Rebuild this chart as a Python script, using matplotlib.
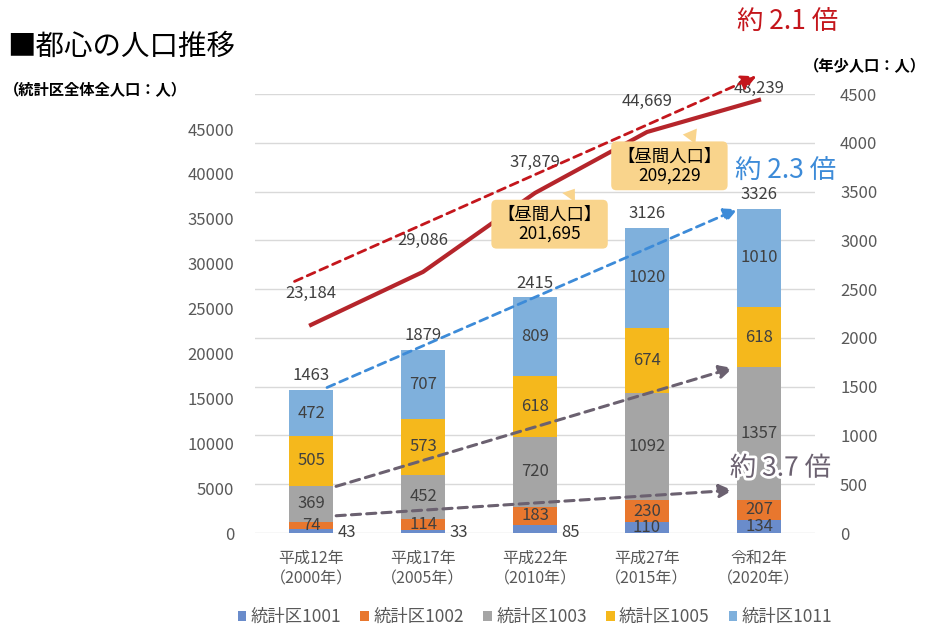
import numpy as np
import matplotlib
matplotlib.use("Agg")
import matplotlib.pyplot as plt
import matplotlib.patheffects as pe

plt.rcParams['font.family'] = ['Noto Sans CJK JP', 'DejaVu Sans']

# data
years = ["平成12年\n（2000年）", "平成17年\n（2005年）", "平成22年\n（2010年）",
         "平成27年\n（2015年）", "令和2年\n（2020年）"]
series_names = ["統計区1001", "統計区1002", "統計区1003", "統計区1005", "統計区1011"]
youth_1001 = [43, 33, 85, 110, 134]
youth_1002 = [74, 114, 183, 230, 207]
youth_1003 = [369, 452, 720, 1092, 1357]
youth_1005 = [505, 573, 618, 674, 618]
youth_1011 = [472, 707, 809, 1020, 1010]
youth_total = [1463, 1879, 2415, 3126, 3326]
total_pop = [23184, 29086, 37879, 44669, 48239]
daytime_pop = ["201,695", "209,229"]

colors = ["#6A8CCB", "#E8772E", "#A5A5A5", "#F5B81C", "#7FB0DC"]
line_color = "#B5252B"
txt = "#404040"
tick_c = "#595959"

fig = plt.figure(figsize=(9.29, 6.31), dpi=100)
ax = fig.add_axes([0.2745, 0.1553, 0.6028, 0.6957])
ax2 = ax.twinx()

x = np.arange(len(years))
w = 0.39
bottom = np.zeros(len(years))
stack = [youth_1001, youth_1002, youth_1003, youth_1005, youth_1011]
for vals, c, name in zip(stack, colors, series_names):
    ax.bar(x, vals, w, bottom=bottom, color=c, label=name, zorder=2)
    for i, v in enumerate(vals):
        if name == "統計区1001" and v < 100:
            ax.text(x[i] + w / 2 + 0.04, bottom[i] + 10, str(v), ha="left", va="center",
                    fontsize=12, color=txt)
        else:
            ax.text(x[i], bottom[i] + v / 2, str(v), ha="center", va="center",
                    fontsize=12, color=txt)
    bottom += np.array(vals)
for i, t in enumerate(youth_total):
    ax.text(x[i], t + 60, str(t), ha="center", va="bottom", fontsize=12, color=txt)

ax.set_xlim(-0.5, 4.5)
ax.set_ylim(0, 4500)
ax.set_yticks(np.arange(0, 4501, 500))
ax.yaxis.tick_right()
ax.grid(axis="y", color="#D9D9D9", lw=1)
ax.set_axisbelow(True)
ax.set_xticks(x)
ax.set_xticklabels(years, fontsize=11.5, color=tick_c, linespacing=1.3)
ax.tick_params(axis="x", length=0, pad=12)
ax.tick_params(axis="y", length=0, pad=18, labelsize=12, labelcolor=tick_c)
for s in ax.spines.values():
    s.set_visible(False)

# total population line
ax2.plot(x, total_pop, color=line_color, lw=3, zorder=3, clip_on=False)
for i, v in enumerate(total_pop):
    dy = 2500 if i < len(total_pop) - 1 else 300
    ax2.text(x[i], v + dy, f"{v:,}", ha="center", va="bottom", fontsize=12, color=txt)
ax2.set_ylim(0, 48900)
ax2.set_yticks(np.arange(0, 45001, 5000))
ax2.yaxis.tick_left()
ax2.tick_params(axis="y", length=0, pad=15, labelsize=12, labelcolor=tick_c)
for s in ax2.spines.values():
    s.set_visible(False)

# growth arrows
ax2.annotate("", xy=(4.0, 51000), xytext=(-0.17, 27900), annotation_clip=False,
             arrowprops=dict(arrowstyle="-|>,head_width=0.45,head_length=0.9",
                             color="#C4161C", lw=2, ls=(0, (3, 2))))
ax.annotate("", xy=(3.83, 3330), xytext=(0.12, 1480),
            arrowprops=dict(arrowstyle="-|>,head_width=0.4,head_length=0.8",
                            color="#3D8BD8", lw=2, ls=(0, (3, 2))), zorder=5)
ax.annotate("", xy=(3.79, 1700), xytext=(0.2, 470),
            arrowprops=dict(arrowstyle="-|>,head_width=0.4,head_length=0.8",
                            color="#6B6170", lw=2.2, ls=(0, (3, 2))), zorder=5)
ax.annotate("", xy=(3.79, 440), xytext=(0.2, 175),
            arrowprops=dict(arrowstyle="-|>,head_width=0.4,head_length=0.8",
                            color="#6B6170", lw=2.2, ls=(0, (3, 2))), zorder=5)

# daytime population callouts
box = dict(boxstyle="round,pad=0.35,rounding_size=0.3", fc="#F9D48C", ec="none")
ax2.annotate("【昼間人口】\n" + daytime_pop[0], xy=(2.37, 38600), xytext=(2.13, 34400),
             ha="center", va="center", fontsize=12.5, color="black", linespacing=1.05,
             bbox=box, zorder=6,
             arrowprops=dict(arrowstyle="wedge,tail_width=0.9", fc="#F9D48C", ec="none"))
ax2.annotate("【昼間人口】\n" + daytime_pop[1], xy=(3.46, 45300), xytext=(3.2, 40900),
             ha="center", va="center", fontsize=12.5, color="black", linespacing=1.05,
             bbox=box, zorder=6,
             arrowprops=dict(arrowstyle="wedge,tail_width=0.9", fc="#F9D48C", ec="none"))

# titles and notes
fig.text(0.008, 0.925, "■都心の人口推移", fontsize=20.5, ha="left", va="center")
fig.text(0.004, 0.857, "（統計区全体全人口：人）", fontsize=11, fontweight="bold",
         ha="left", va="center")
fig.text(0.997, 0.895, "（年少人口：人）", fontsize=11, fontweight="bold",
         ha="right", va="center")
fig.text(0.848, 0.965, "約 2.1 倍", fontsize=19, color="#C4161C", ha="center", va="center")
fig.text(0.846, 0.728, "約 2.3 倍", fontsize=19, color="#3D8BD8", ha="center", va="center")
fig.text(0.84, 0.258, "約 3.7 倍", fontsize=19, color="#6B6170", ha="center", va="center",
         path_effects=[pe.withStroke(linewidth=4, foreground="white")])

ax.legend(loc="upper center", bbox_to_anchor=(0.5, -0.135), ncol=5, frameon=False,
          fontsize=12.5, handlelength=0.5, handleheight=0.5, handletextpad=0.25,
          columnspacing=1.1, labelcolor=tick_c)

fig.savefig("out.png", dpi=100)
